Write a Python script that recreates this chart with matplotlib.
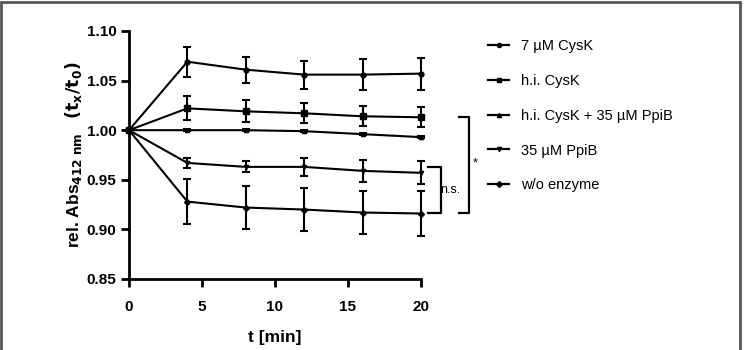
import numpy as np
import matplotlib.pyplot as plt
from matplotlib.lines import Line2D

plt.rcParams['font.family'] = ['Liberation Sans', 'DejaVu Sans']

# time points [min]
t = [0, 4, 8, 12, 16, 20]

labels = ['7 \u00b5M CysK', 'h.i. CysK', 'h.i. CysK + 35 \u00b5M PpiB',
          '35 \u00b5M PpiB', 'w/o enzyme']

# mean relative absorbance (tx/t0)
cysk = [1.000, 1.069, 1.061, 1.056, 1.056, 1.057]
hi_cysk = [1.000, 1.022, 1.019, 1.017, 1.014, 1.013]
hi_cysk_ppib = [1.000, 1.000, 1.000, 0.999, 0.996, 0.993]
ppib = [1.000, 0.967, 0.963, 0.963, 0.959, 0.957]
no_enzyme = [1.000, 0.928, 0.922, 0.920, 0.917, 0.916]

# standard deviations
cysk_err = [0, 0.015, 0.013, 0.014, 0.016, 0.016]
hi_cysk_err = [0, 0.012, 0.011, 0.010, 0.010, 0.010]
hi_cysk_ppib_err = [0, 0.001, 0.001, 0.001, 0.001, 0.001]
ppib_err = [0, 0.005, 0.0055, 0.009, 0.011, 0.0115]
no_enzyme_err = [0, 0.0225, 0.0215, 0.0215, 0.022, 0.0225]

means = [cysk, hi_cysk, hi_cysk_ppib, ppib, no_enzyme]
errs = [cysk_err, hi_cysk_err, hi_cysk_ppib_err, ppib_err, no_enzyme_err]
markers = ['o', 's', '^', 'v', 'D']
msizes = [3.5, 5, 3, 3, 3]

fig = plt.figure(figsize=(7.46, 3.5), dpi=100)
ax = fig.add_axes([0.1729, 0.2029, 0.3914, 0.7086])

for m, e, mk, ms in zip(means, errs, markers, msizes):
    ax.errorbar(t, m, yerr=e, color='black', lw=1.5, marker=mk, ms=ms,
                elinewidth=1.5, capsize=3, capthick=1.5, clip_on=False)

ax.set_xlim(0, 20)
ax.set_ylim(0.85, 1.10)
ax.set_xticks([0, 5, 10, 15, 20])
ax.set_yticks([0.85, 0.90, 0.95, 1.00, 1.05, 1.10])
ax.set_yticklabels(['0.85', '0.90', '0.95', '1.00', '1.05', '1.10'])
for s in ['top', 'right']:
    ax.spines[s].set_visible(False)
for s in ['left', 'bottom']:
    ax.spines[s].set_linewidth(2)
ax.tick_params(width=2, length=6, labelsize=11, pad=3)
ax.tick_params(axis='x', pad=9)
for lab in ax.get_xticklabels() + ax.get_yticklabels():
    lab.set_fontweight('bold')

ax.set_xlabel('t [min]', fontsize=12.5, fontweight='bold', labelpad=12)
ax.set_ylabel(r'rel. Abs$_{\mathbf{412\ nm}}$   $\mathbf{(t_x/t_0)}$',
              fontsize=12.5, fontweight='bold', labelpad=2)

# significance brackets
bk = dict(color='black', lw=1.6, clip_on=False)
ax.plot([20.5, 21.35, 21.35, 20.5], [0.963, 0.963, 0.917, 0.917], **bk)
ax.text(21.3, 0.940, 'n.s.', fontsize=9, va='center', ha='left')
ax.plot([22.6, 23.3, 23.3, 22.6], [1.0136, 1.0136, 0.917, 0.917], **bk)
ax.text(23.55, 0.966, '*', fontsize=9, va='center', ha='left')

# legend
handles = [Line2D([0], [0], color='black', lw=1.6, marker=mk, ms=3)
           for mk in markers]
fig.legend(handles, labels, loc='upper left', bbox_to_anchor=(0.636, 0.925),
           frameon=False, fontsize=10.5, handlelength=1.5, handletextpad=0.8,
           labelspacing=1.42)

# picture border
fig.add_artist(plt.Rectangle((0.002, -0.01), 0.9905, 1.003, fill=False,
                             edgecolor='#555555', lw=2,
                             transform=fig.transFigure))

fig.savefig('out.png', dpi=100)
